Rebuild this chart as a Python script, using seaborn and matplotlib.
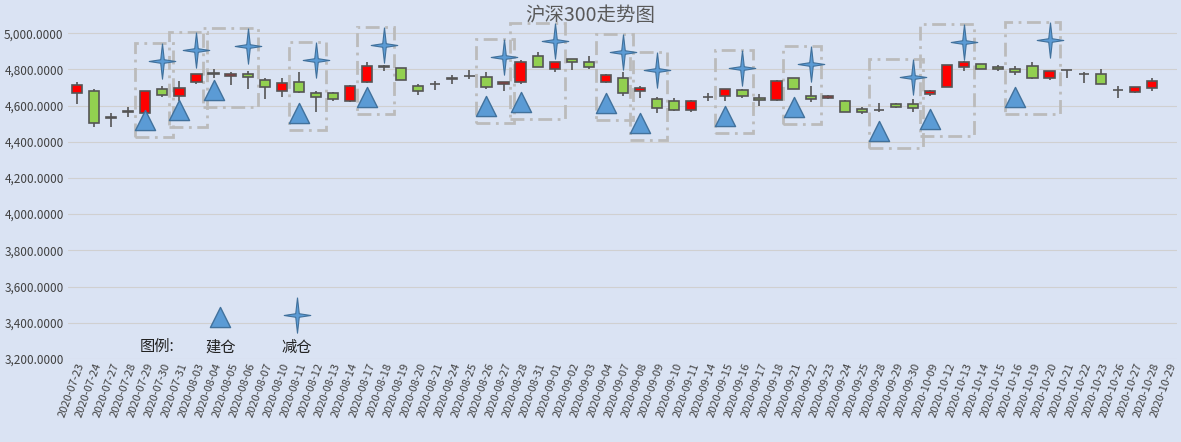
import matplotlib
matplotlib.use("Agg")
import matplotlib.pyplot as plt
import seaborn as sns
import numpy as np
import pandas as pd
from matplotlib.patches import Rectangle
from matplotlib.ticker import FuncFormatter

dates = ["2020-07-23","2020-07-24","2020-07-27","2020-07-28","2020-07-29","2020-07-30","2020-07-31",
"2020-08-03","2020-08-04","2020-08-05","2020-08-06","2020-08-07","2020-08-10","2020-08-11","2020-08-12",
"2020-08-13","2020-08-14","2020-08-17","2020-08-18","2020-08-19","2020-08-20","2020-08-21","2020-08-24",
"2020-08-25","2020-08-26","2020-08-27","2020-08-28","2020-08-31","2020-09-01","2020-09-02","2020-09-03",
"2020-09-04","2020-09-07","2020-09-08","2020-09-09","2020-09-10","2020-09-11","2020-09-14","2020-09-15",
"2020-09-16","2020-09-17","2020-09-18","2020-09-21","2020-09-22","2020-09-23","2020-09-24","2020-09-25",
"2020-09-28","2020-09-29","2020-09-30","2020-10-09","2020-10-12","2020-10-13","2020-10-14","2020-10-15",
"2020-10-16","2020-10-19","2020-10-20","2020-10-21","2020-10-22","2020-10-23","2020-10-26","2020-10-27",
"2020-10-28","2020-10-29"]
opens = [4667,4680,4532,4566,4557,4689,4652,4731,4777,4763,4777,4739,4680,4730,4667,4667,4626,4728,4814,4805,
4707,4717,4744,4764,4759,4718,4728,4873,4800,4860,4838,4731,4755,4682,4634,4626,4575,4648,4652,4684,4640,4630,
4750,4652,4640,4625,4580,4575,4606,4606,4662,4704,4811,4827,4811,4800,4821,4750,4796,4774,4772,4685,4676,4698,np.nan]
closes = [4713,4502,4532,4566,4680,4656,4695,4774,4777,4777,4759,4704,4722,4676,4645,4634,4706,4816,4814,4739,
4678,4717,4755,4764,4704,4728,4842,4814,4838,4842,4814,4768,4667,4695,4584,4575,4625,4648,4689,4654,4628,4735,
4689,4634,4652,4562,4566,4575,4590,4584,4680,4823,4838,4803,4800,4786,4755,4792,4796,4774,4717,4685,4700,4735,np.nan]
highs = [4728,4691,4557,4590,4680,4707,4737,4774,4801,4783,4790,4750,4755,4786,4680,4676,4712,4838,4823,4805,
4718,4737,4768,4796,4783,4728,4850,4897,4838,4860,4875,4775,4786,4707,4645,4640,4632,4667,4689,4691,4662,4740,
4750,4707,4660,4630,4593,4612,4612,4634,4688,4823,4847,4827,4822,4819,4838,4792,4796,4786,4800,4709,4705,4750,np.nan]
lows = [4608,4479,4479,4535,4557,4648,4625,4718,4755,4713,4691,4636,4645,4670,4562,4625,4620,4722,4790,4739,
4660,4686,4718,4744,4691,4680,4720,4814,4786,4796,4800,4725,4654,4640,4557,4570,4565,4625,4626,4643,4599,4625,
4689,4621,4635,4562,4551,4566,4585,4562,4655,4700,4792,4803,4790,4768,4745,4740,4755,4722,4717,4640,4672,4681,np.nan]

buy_idx = [4,6,8,13,17,24,26,31,33,38,42,47,50,55]
buy_val = [4520,4575,4685,4558,4647,4597,4619,4613,4503,4542,4591,4459,4525,4647]
sell_idx = [5,7,10,14,18,25,28,32,34,39,43,49,52,57]
sell_val = [4845,4906,4928,4851,4934,4867,4956,4895,4796,4807,4829,4757,4950,4961]

sns.set_theme(style="white")
plt.rcParams['font.family'] = ['Noto Sans CJK SC', 'DejaVu Sans']
bg = "#dae3f3"
fig = plt.figure(figsize=(11.81, 4.42), dpi=100, facecolor=bg)
ax = fig.add_axes([0.058, 0.188, 0.939, 0.782], facecolor=bg)

x = np.arange(len(dates))
o = np.array(opens); c = np.array(closes)
up = c >= o
colors = np.where(up, "#ff0000", "#92d050")
ax.vlines(x, lows, highs, color="#555555", lw=1.2, zorder=2)
ax.bar(x, np.maximum(np.abs(c - o), 2), bottom=np.minimum(o, c), width=0.6,
       color=colors, edgecolor="#555555", lw=1.2, zorder=3)

for bi, bv, si, sv in zip(buy_idx, buy_val, sell_idx, sell_val):
    ax.add_patch(Rectangle((bi - 0.6, bv - 95), si - bi + 1.2, sv - bv + 195, fill=False,
                           ec="#bbbbbb", lw=2, ls=(0, (5, 2, 1, 2)), zorder=1))

star = [(0, 1), (0.1, 0.1), (0.75, 0), (0.1, -0.1), (0, -1), (-0.1, -0.1), (-0.75, 0), (-0.1, 0.1), (0, 1)]
df_b = pd.DataFrame({"x": buy_idx, "y": buy_val})
df_s = pd.DataFrame({"x": sell_idx, "y": sell_val})
sns.scatterplot(data=df_b, x="x", y="y", marker="^", s=210, color="#5b9bd5", edgecolor="#41719c", lw=1, ax=ax, zorder=4)
sns.scatterplot(data=df_s, x="x", y="y", marker=star, s=650, color="#5b9bd5", edgecolor="#41719c", lw=0.8, ax=ax, zorder=4)

ax.text(4.7, 3270, "图例:", fontsize=11, ha="center", va="center", color="#222222")
ax.scatter([8.4], [3430], marker="^", s=210, color="#5b9bd5", edgecolor="#41719c", zorder=4)
ax.text(8.4, 3265, "建仓", fontsize=11, ha="center", va="center", color="#222222")
ax.scatter([12.9], [3440], marker=star, s=650, color="#5b9bd5", edgecolor="#41719c", lw=0.8, zorder=4)
ax.text(12.9, 3265, "减仓", fontsize=11, ha="center", va="center", color="#222222")

ax.set_xlim(-0.5, len(dates) - 0.5)
ax.set_ylim(3200, 5110)
ax.set_yticks(np.arange(3200, 5001, 200))
ax.yaxis.set_major_formatter(FuncFormatter(lambda v, p: f"{v:,.4f}"))
ax.set_xticks(x)
ax.set_xticklabels(dates, rotation=70, ha="right", rotation_mode="anchor", fontsize=8, color="#404040")
ax.tick_params(axis="y", labelsize=8.5, labelcolor="#404040", length=0)
ax.tick_params(axis="x", length=0, pad=2)
ax.grid(axis="y", color="#d0d0d0", lw=0.8)
ax.set_axisbelow(True)
for s in ax.spines.values():
    s.set_visible(False)
ax.set_xlabel(""); ax.set_ylabel("")
fig.text(0.5, 0.965, "沪深300走势图", ha="center", va="center", fontsize=14, color="#595959")
fig.savefig("out.png", dpi=100, facecolor=bg)
